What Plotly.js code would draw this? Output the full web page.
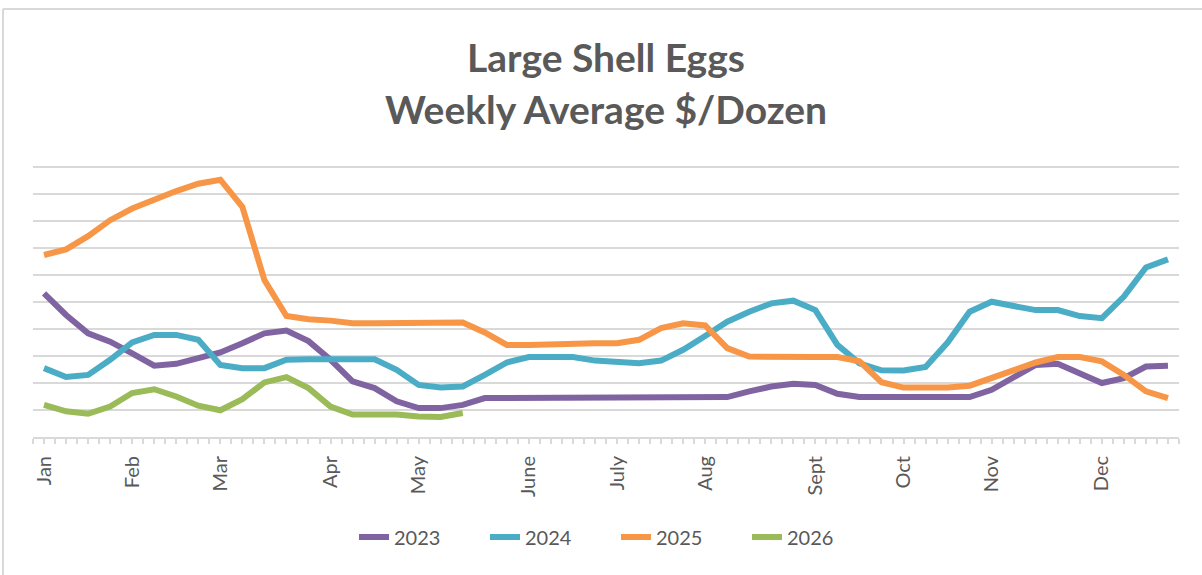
<!DOCTYPE html>
<html>
<head>
<meta charset="utf-8">
<script src="https://cdn.plot.ly/plotly-3.0.1.min.js"></script>
<style>
  html, body { margin: 0; padding: 0; background: #ffffff; }
  #chart { width: 1202px; height: 575px; }
</style>
</head>
<body>
<div id="chart"></div>
<script>
// Week index (0..51) along the year
const weeks = Array.from({length: 52}, (_, i) => i);

// Month tick labels and the week on which each sits
const monthWeeks = [0, 4, 8, 13, 17, 22, 26, 30, 35, 39, 43, 48];
const monthLabels = ["Jan", "Feb", "Mar", "Apr", "May", "June", "July", "Aug", "Sept", "Oct", "Nov", "Dec"];

// Weekly average $/dozen
const y2023 = [5.32, 4.52, 3.84, 3.53, 3.10, 2.64, 2.71, 2.92, 3.13, 3.47, 3.84, 3.94, 3.55,
               2.86, 2.06, 1.81, 1.32, 1.07, 1.07, 1.19, 1.44, 1.44, 1.44, 1.44, 1.44, 1.44,
               1.44, 1.44, 1.44, 1.44, 1.44, 1.48, 1.69, 1.87, 1.97, 1.93, 1.60, 1.48, 1.48,
               1.48, 1.48, 1.48, 1.48, 1.75, 2.24, 2.67, 2.71, 2.36, 2.00, 2.18, 2.61, 2.64];
const y2024 = [2.55, 2.22, 2.30, 2.86, 3.50, 3.78, 3.78, 3.60, 2.67, 2.55, 2.55, 2.86, 2.88,
               2.88, 2.88, 2.88, 2.49, 1.93, 1.83, 1.87, 2.30, 2.76, 2.96, 2.98, 2.96, 2.83,
               2.76, 2.73, 2.83, 3.23, 3.74, 4.27, 4.64, 4.95, 5.05, 4.70, 3.41, 2.73, 2.47,
               2.46, 2.59, 3.50, 4.64, 5.01, 4.85, 4.70, 4.70, 4.48, 4.40, 5.20, 6.28, 6.58];
const y2025 = [6.74, 6.95, 7.44, 8.03, 8.46, 8.79, 9.11, 9.38, 9.53, 8.52, 5.81, 4.48, 4.36,
               4.31, 4.21, 4.21, 4.21, 4.21, 4.24, 4.24, 3.87, 3.41, 3.41, 3.44, 3.47, 3.47,
               3.47, 3.60, 4.03, 4.21, 4.13, 3.29, 2.98, 2.96, 2.96, 2.96, 2.96, 2.80, 2.03,
               1.83, 1.83, 1.83, 1.90, 2.18, 2.49, 2.76, 2.96, 2.96, 2.80, 2.30, 1.69, 1.44];
const y2026 = [1.19, 0.95, 0.86, 1.13, 1.63, 1.77, 1.50, 1.16, 0.99, 1.40, 2.02, 2.22, 1.81,
               1.13, 0.83, 0.83, 0.83, 0.76, 0.74, 0.89];

const seriesNames = ["2023", "2024", "2025", "2026"];
const seriesColors = ["#8064A2", "#4BACC6", "#F79646", "#9BBB59"];
const seriesValues = [y2023, y2024, y2025, y2026];

const traces = seriesValues.map((vals, k) => ({
  type: "scatter",
  mode: "lines",
  name: seriesNames[k],
  x: weeks.slice(0, vals.length),
  y: vals,
  line: {color: seriesColors[k], width: 6, shape: "linear"},
  hoverinfo: "x+y+name"
}));

// Tick marks every half week (category edges and centres); labels only at month starts
const tickPos = Array.from({length: 105}, (_, i) => -0.5 + i * 0.5);
const tickTxt = tickPos.map(v => {
  const m = monthWeeks.indexOf(v);
  return m >= 0 ? monthLabels[m] : "";
});

// geometry helpers (plot area 33..1179 x, 164..437 y; 27 px per dollar)
const L = 33, R = 23, T = 164, B = 138, W = 1202, H = 575;
const PW = W - L - R, PH = H - T - B;
const px = v => (v - L) / PW;
const py = v => (H - B - v) / PH;

const textColor = "#595959";
const gridColor = "#d9d9d9";
const fontFam = "Lato, 'Open Sans', sans-serif";

const layout = {
  width: W, height: H,
  margin: {l: L, r: R, t: T, b: B},
  paper_bgcolor: "#ffffff",
  plot_bgcolor: "#ffffff",
  font: {family: fontFam, color: textColor},
  showlegend: true,
  legend: {
    orientation: "h",
    x: px(616), xanchor: "center",
    y: py(537), yanchor: "middle",
    font: {family: fontFam, size: 20, color: textColor},
    traceorder: "normal",
    entrywidth: 86,
    entrywidthmode: "pixels",
    bgcolor: "rgba(0,0,0,0)"
  },
  xaxis: {
    range: [-0.5, 51.5],
    tickmode: "array",
    tickvals: tickPos,
    ticktext: tickTxt,
    tickangle: -90,
    ticks: "outside",
    ticklen: 5,
    tickwidth: 1.5,
    tickcolor: gridColor,
    ticklabelstandoff: 4,
    showgrid: false,
    zeroline: false,
    showline: true,
    linecolor: gridColor,
    linewidth: 2,
    tickfont: {family: fontFam, size: 20, color: textColor},
    fixedrange: true
  },
  yaxis: {
    range: [0, PH / 27],
    tickmode: "linear",
    dtick: 1,
    tick0: 0,
    showticklabels: false,
    showgrid: true,
    gridcolor: gridColor,
    gridwidth: 1.5,
    zeroline: false,
    showline: false,
    ticks: "",
    fixedrange: true
  },
  annotations: [
    {text: "<b>Large Shell Eggs</b>", xref: "paper", yref: "paper",
     x: px(606), y: py(57), xanchor: "center", yanchor: "middle", showarrow: false,
     font: {family: fontFam, size: 39, color: textColor}},
    {text: "<b>Weekly Average $/Dozen</b>", xref: "paper", yref: "paper",
     x: px(606), y: py(109), xanchor: "center", yanchor: "middle", showarrow: false,
     font: {family: fontFam, size: 39, color: textColor}}
  ],
  shapes: [
    {type: "line", xref: "paper", yref: "paper", x0: px(3), x1: px(1202), y0: py(9), y1: py(9),
     line: {color: gridColor, width: 2}},
    {type: "line", xref: "paper", yref: "paper", x0: px(3), x1: px(3), y0: py(9), y1: py(575),
     line: {color: gridColor, width: 2}}
  ]
};

Plotly.newPlot("chart", traces, layout, {displayModeBar: false, staticPlot: false});
</script>
</body>
</html>
